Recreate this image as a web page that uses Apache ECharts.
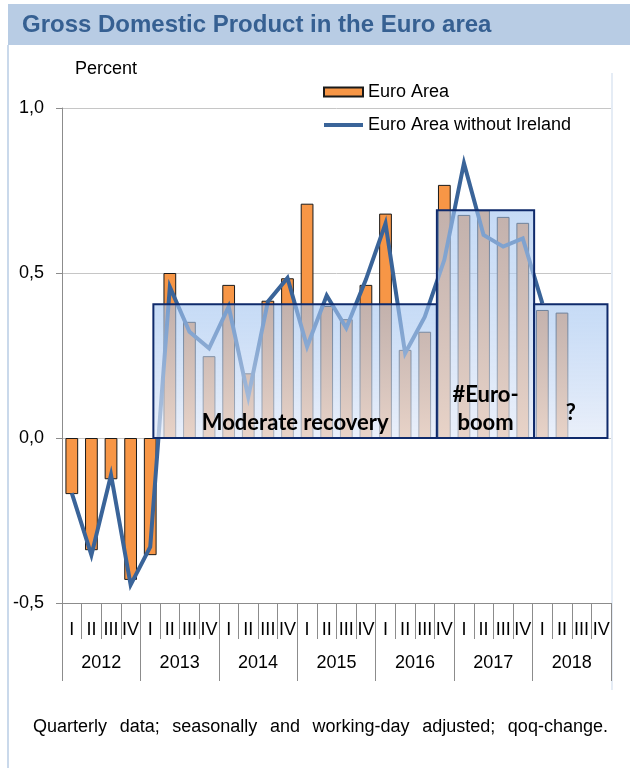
<!DOCTYPE html>
<html>
<head>
<meta charset="utf-8">
<script src="https://cdn.jsdelivr.net/npm/echarts@6/dist/echarts.min.js"></script>
<style>html,body{margin:0;padding:0;background:#fff;}#c{width:630px;height:768px;}</style>
</head>
<body>
<div id="c"></div>
<script>
// ---- data ----
var quarters = ['I','II','III','IV','I','II','III','IV','I','II','III','IV','I','II','III','IV',
                'I','II','III','IV','I','II','III','IV','I','II','III','IV'];
var years = ['2012','2013','2014','2015','2016','2017','2018'];
var euroArea = [-0.17,-0.34,-0.125,-0.43, -0.355,0.50,0.352,0.248, 0.464,0.196,0.416,0.484,
                0.71,0.40,0.36,0.464, 0.68,0.267,0.322,0.767, 0.676,0.69,0.67,0.652, 0.388,0.38,null,null];
var euroAreaExIreland = [-0.167,-0.355,-0.112,-0.445, -0.33,0.458,0.322,0.272, 0.398,0.125,0.413,0.485,
                0.277,0.432,0.333,0.48, 0.65,0.257,0.367,0.54, 0.833,0.615,0.58,0.605, 0.408,null,null,null];
// phases: start / end in quarter units (0 = start of 2012 I), top value
var phaseNames = ['Moderate recovery', '#Euro-\nboom', '?'];
var phaseStart = [4.66, 19.12, 24.08];
var phaseEnd   = [19.12, 24.08, 27.82];
var phaseTop   = [0.405, 0.69, 0.405];
var footnoteWords = ['Quarterly','data;','seasonally','and','working-day','adjusted;','qoq-change.'];

var chart = echarts.init(document.getElementById('c'), null, {renderer:'canvas'});
var phaseData = phaseNames.map(function(n,i){ return [phaseStart[i], phaseEnd[i], phaseTop[i], i]; });
var labelLift = [1, 1, 11];
var FONT = 'Liberation Sans, Arial, sans-serif';

var option = {
  animation:false,
  textStyle:{fontFamily:FONT},
  grid:{left:62, right:19, top:108, bottom:165, containLabel:false},
  legend:{
    orient:'vertical', left:322, top:83, itemWidth:39, itemHeight:9, itemGap:15,
    data:[
      {name:'Euro Area', icon:'rect'},
      {name:'Euro Area without Ireland', itemStyle:{opacity:0}, lineStyle:{width:4, color:'#3a6499'}}
    ],
    textStyle:{fontSize:18, color:'#000', fontFamily:FONT},
    padding:0
  },
  xAxis:[
    {type:'category', data:quarters, position:'bottom', boundaryGap:true,
     axisLine:{show:true, onZero:false, lineStyle:{color:'#8c8c8c', width:1}},
     axisTick:{show:true, interval:0, length:36, lineStyle:{color:'#8c8c8c'}},
     axisLabel:{interval:0, fontSize:18, color:'#000', margin:18},
     splitLine:{show:false}},
    {type:'category', data:years, position:'bottom', offset:36, boundaryGap:true,
     axisLine:{show:false, onZero:false},
     axisTick:{show:true, interval:0, length:42, lineStyle:{color:'#8c8c8c'}},
     axisLabel:{interval:0, fontSize:18, color:'#000', margin:15},
     splitLine:{show:false}},
    {type:'value', min:0, max:28, show:false}
  ],
  yAxis:{type:'value', min:-0.5, max:1.0, interval:0.5,
    axisLine:{show:true, lineStyle:{color:'#8c8c8c'}},
    axisTick:{show:true, length:6, lineStyle:{color:'#8c8c8c'}},
    axisLabel:{fontSize:18, color:'#000', margin:18,
      formatter:function(v){ return v.toFixed(1).replace('.',','); }},
    splitLine:{show:true, lineStyle:{color:'#c6c6c6', width:1}}
  },
  series:[
    {name:'Euro Area', type:'bar', data:euroArea, xAxisIndex:0, barWidth:'65%', z:2,
     itemStyle:{color:'#f79646', borderColor:'#1a1a1a', borderWidth:1}},
    {name:'Euro Area without Ireland', type:'line', data:euroAreaExIreland, xAxisIndex:0, z:3,
     symbol:'none', showSymbol:false, connectNulls:false,
     lineStyle:{color:'#3a6499', width:4, join:'miter'}, itemStyle:{color:'#3a6499'}},
    {name:'phases', type:'custom', xAxisIndex:2, yAxisIndex:0, z:5, data:phaseData,
     renderItem:function(params, api){
       var i = api.value(3);
       var p1 = api.coord([api.value(0), api.value(2)]);
       var p2 = api.coord([api.value(1), 0]);
       var w = p2[0]-p1[0], h = p2[1]-p1[1];
       return {type:'group', children:[
         {type:'rect', shape:{x:p1[0], y:p1[1], width:w, height:h},
          style:{fill:new echarts.graphic.LinearGradient(0,0,0,1,[
              {offset:0, color:'rgba(160,195,240,0.6)'},
              {offset:1, color:'rgba(227,234,248,0.73)'}]),
            stroke:'#0f2a6b', lineWidth:2}},
         {type:'text', x:(p1[0]+p2[0])/2, y:p2[1]-labelLift[i],
          style:{text:phaseNames[i], fill:'#000', font:'bold 22px Lato, sans-serif',
            align:'center', verticalAlign:'bottom', lineHeight:28}}
       ]};
     }}
  ],
  graphic:[
    {type:'rect', left:8, top:4, shape:{width:622, height:41}, style:{fill:'#b8cce4'}, silent:true},
    {type:'text', x:22, y:25, style:{text:'Gross Domestic Product in the Euro area', fill:'#366092',
       font:'bold 24px ' + FONT, verticalAlign:'middle'}},
    {type:'line', shape:{x1:8, y1:45, x2:8, y2:768}, style:{stroke:'#b8cce4', lineWidth:1.5}},
    {type:'line', shape:{x1:612, y1:73, x2:612, y2:690}, style:{stroke:'#dce6f2', lineWidth:1.5}},
    {type:'text', x:75, y:69, style:{text:'Percent', fill:'#000', font:'18px ' + FONT, verticalAlign:'middle'}},
    {type:'text', x:33, y:727, style:{text:footnoteWords.join('\u2002\u2009'), fill:'#000', font:'18px ' + FONT, verticalAlign:'middle'}}
  ]
};
chart.setOption(option);
</script>
</body>
</html>
